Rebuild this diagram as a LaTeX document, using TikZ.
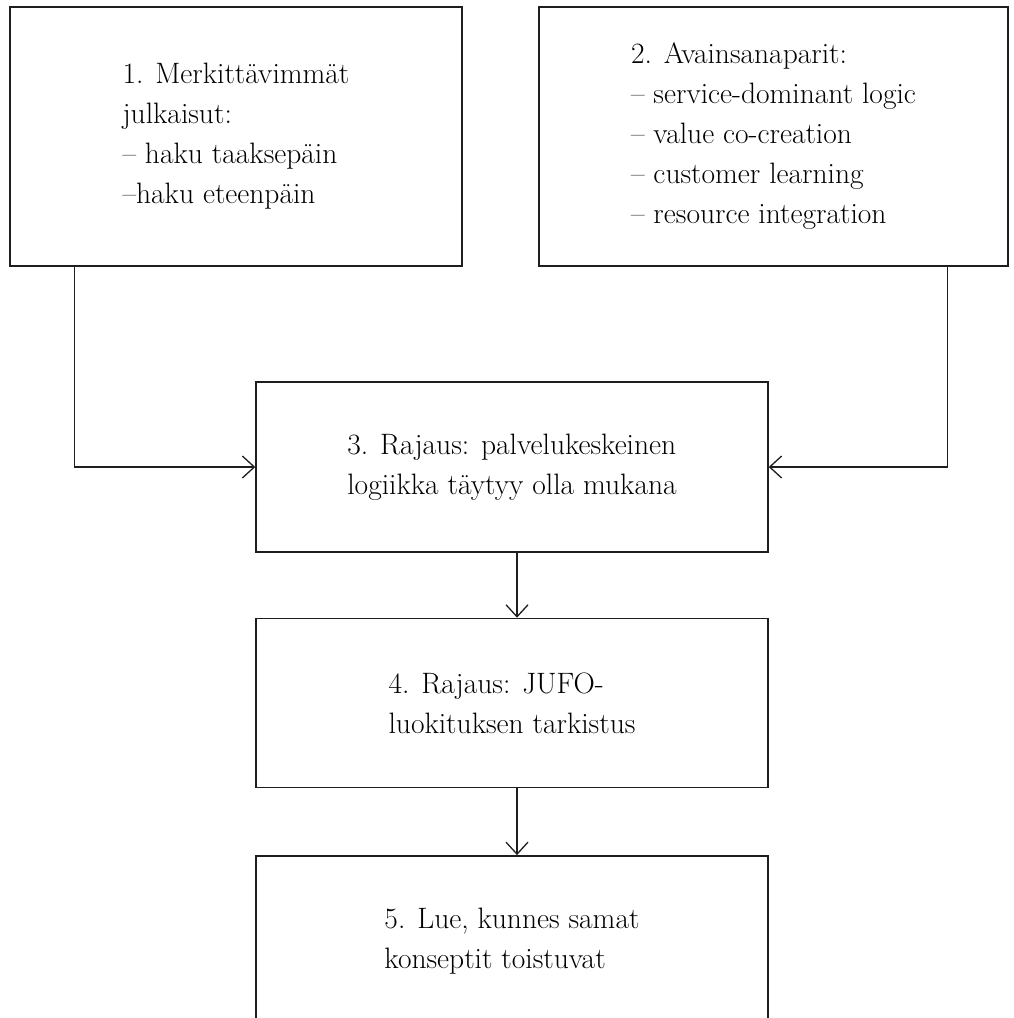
\documentclass[tikz,border=0pt]{standalone}
\usepackage{xcolor}
\usepackage{tikz}
\usetikzlibrary{positioning, arrows.meta}
\definecolor{linegray}{HTML}{1E1E1E}
\tikzset{
  vaihe/.style={draw=linegray, line width=1.4pt, align=left, inner sep=0pt,
    font=\fontsize{29.5}{40}\selectfont, text=black},
  nuoli/.style={draw=linegray, line width=1.3pt, -{Straight Barb[length=12pt,width=22pt]}}
}

\begin{document}
\begin{tikzpicture}[x=1pt, y=-1pt]
  \useasboundingbox (0,0) rectangle (1014,1018);
  \clip (0,0) rectangle (1014,1018);
  \node[vaihe, minimum width=452pt, minimum height=259pt] (haku) at (236,136.5) {%
    1. Merkittävimmät\\julkaisut:\\– haku taaksepäin\\–haku eteenpäin};
  \node[vaihe, minimum width=469pt, minimum height=259pt] (avain) at (773.5,136.5) {%
    2. Avainsanaparit:\\– service-dominant logic\\– value co-creation\\– customer learning\\– resource integration};
  \node[vaihe, minimum width=512pt, minimum height=170pt] (rajaus) at (512,467) {%
    3. Rajaus: palvelukeskeinen\\logiikka täytyy olla mukana};
  \node[vaihe, minimum width=512pt, minimum height=169pt, below=65pt of rajaus] (jufo) {%
    4. Rajaus: JUFO-\\luokituksen tarkistus};
  \node[vaihe, minimum width=512pt, minimum height=170pt, below=67pt of jufo] (lue) {%
    5. Lue, kunnes samat\\konseptit toistuvat};

  \draw[nuoli] ([xshift=65pt]haku.south west) |- (rajaus.west);
  \draw[nuoli] ([xshift=-61pt]avain.south east) |- (rajaus.east);
  \draw[nuoli] ([xshift=5pt]rajaus.south) -- ([xshift=5pt]jufo.north);
  \draw[nuoli] ([xshift=5pt]jufo.south) -- ([xshift=5pt]lue.north);
\end{tikzpicture}
\end{document}
